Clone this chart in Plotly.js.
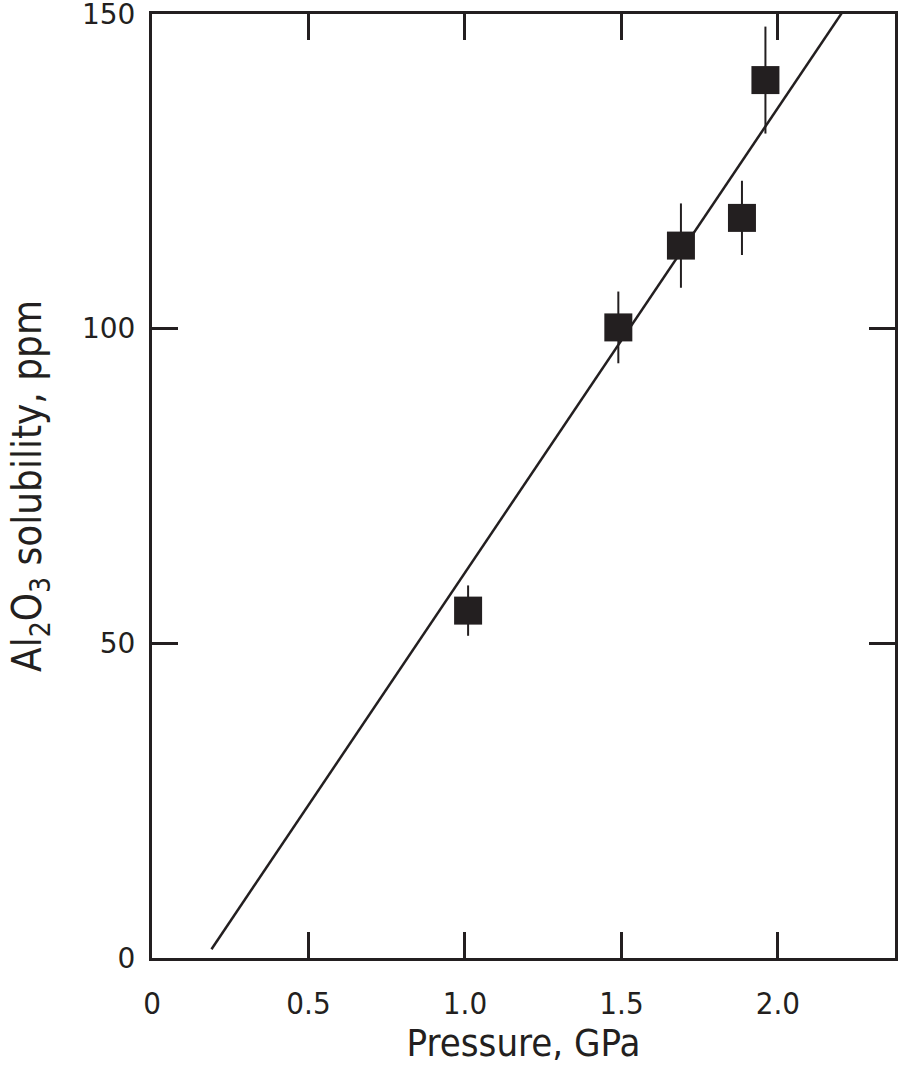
<!DOCTYPE html>
<html>
<head>
<meta charset="utf-8">
<script src="https://cdn.plot.ly/plotly-3.0.1.min.js"></script>
<style>
	html, body { margin: 0; padding: 0; background: #fff; }
	#plot { width: 898px; height: 1066px; }
</style>
</head>
<body>
<div id="plot"></div>
<script>
// measured points: pressure (GPa), Al2O3 solubility (ppm), error (ppm)
const pressure = [ 1.01, 1.49, 1.69, 1.885, 1.96 ];
const solubility = [ 55.2, 100.2, 113.2, 117.6, 139.5 ];
const solError = [ 4.0, 5.7, 6.7, 5.9, 8.5 ];

// fitted line end points
const fitX = [ 0.19, 2.21 ];
const fitY = [ 1.4, 150.6 ];

const xTickVals = [ 0, 0.5, 1.0, 1.5, 2.0 ];
const xTickText = [ '0', '0.5', '1.0', '1.5', '2.0' ];
const yTickVals = [ 0, 50, 100, 150 ];
const yTickText = [ '0', '50', '100', '150' ];

const ink = '#231f20';
const narrow = '"Liberation Sans Narrow", "DejaVu Sans Condensed", "Arial Narrow", sans-serif';
const wide = '"DejaVu Sans", Verdana, sans-serif';

const fitTrace = {
	x: fitX,
	y: fitY,
	type: 'scatter',
	mode: 'lines',
	line: { color: ink, width: 2.5 },
	hoverinfo: 'skip'
};

const pointTrace = {
	x: pressure,
	y: solubility,
	type: 'scatter',
	mode: 'markers',
	marker: { symbol: 'square', size: 28, color: ink, line: { width: 0 } },
	error_y: { type: 'data', array: solError, visible: true, color: ink, thickness: 2, width: 0 }
};

const layout = {
	width: 898,
	height: 1066,
	margin: { l: 152, r: 3, t: 14, b: 108 },
	paper_bgcolor: '#fff',
	plot_bgcolor: '#fff',
	showlegend: false,
	xaxis: {
		range: [ 0, 2.374 ],
		tickvals: xTickVals,
		ticktext: xTickText,
		ticks: 'inside',
		ticklen: 26,
		tickwidth: 3,
		tickcolor: ink,
		showline: true,
		linewidth: 3,
		linecolor: ink,
		mirror: 'ticks',
		showgrid: false,
		zeroline: false,
		ticklabelstandoff: 16,
		tickfont: { family: narrow, size: 31, color: ink },
		title: { text: 'Pressure, GPa', font: { family: narrow, size: 38, color: ink }, standoff: 8 }
	},
	yaxis: {
		range: [ 0, 150 ],
		tickvals: yTickVals,
		ticktext: yTickText,
		ticks: 'inside',
		ticklen: 26,
		tickwidth: 3,
		tickcolor: ink,
		showline: true,
		linewidth: 3,
		linecolor: ink,
		mirror: 'ticks',
		showgrid: false,
		zeroline: false,
		ticklabelstandoff: 8,
		ticklabeloverflow: 'allow',
		tickfont: { family: wide, size: 28, color: ink },
		title: { text: 'Al<sub>2</sub>O<sub>3</sub> solubility, ppm', font: { family: narrow, size: 40, color: ink }, standoff: 28 }
	}
};

Plotly.newPlot( 'plot', [ fitTrace, pointTrace ], layout, { staticPlot: true } );
</script>
</body>
</html>
